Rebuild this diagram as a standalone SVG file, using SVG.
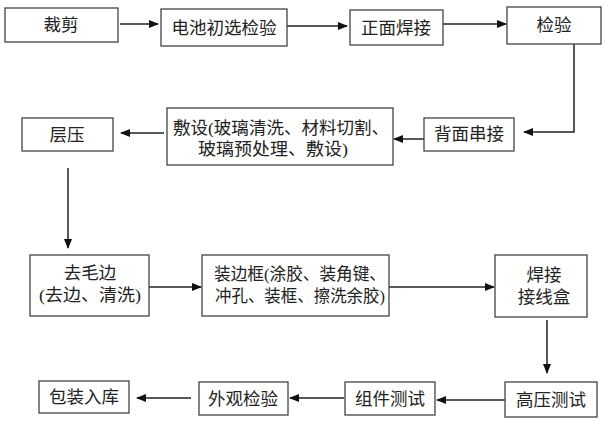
<svg xmlns="http://www.w3.org/2000/svg" width="605" height="421" viewBox="0 0 605 421">
<style>
.b{fill:#fff;stroke:#444;stroke-width:1.3}
.t{font-family:"Liberation Serif","Noto Sans CJK SC",serif;font-size:17.5px;fill:#222;text-anchor:middle;dominant-baseline:central}
.s{text-anchor:start}
.c{fill:none;stroke:#222;stroke-width:1.5;marker-end:url(#a)}
</style>
<defs>
<marker id="a" markerUnits="userSpaceOnUse" markerWidth="10" markerHeight="8" refX="9" refY="4" orient="auto">
<path d="M0,0 L10,4 L0,8 Z" fill="#111"/>
</marker>
</defs>
<rect width="605" height="421" fill="#fff"/>
<g id="connectors">
<path class="c" d="M120,24 H158"/>
<path class="c" d="M287,26 H347"/>
<path class="c" d="M443,24 H506"/>
<path class="c" d="M574,44 V132 H524"/>
<path class="c" d="M424,139 H394"/>
<path class="c" d="M164,133 H121"/>
<path class="c" d="M68,168 V248"/>
<path class="c" d="M149,287 H201"/>
<path class="c" d="M389,287 H494"/>
<path class="c" d="M547,320 V373"/>
<path class="c" d="M505,400 H437"/>
<path class="c" d="M344,398 H290"/>
<path class="c" d="M191,398 H137"/>
</g>
<g id="n1"><rect class="b" x="5" y="8" width="113" height="34"/><text class="t" x="61" y="25">裁剪</text></g>
<g id="n2"><rect class="b" x="161" y="9" width="126" height="37"/><text class="t" x="224" y="28">电池初选检验</text></g>
<g id="n3"><rect class="b" x="350" y="10" width="93" height="35"/><text class="t" x="396" y="28">正面焊接</text></g>
<g id="n4"><rect class="b" x="507" y="7" width="94" height="37"/><text class="t" x="554" y="25">检验</text></g>
<g id="n5"><rect class="b" x="424" y="118" width="90" height="33"/><text class="t" x="469" y="134">背面串接</text></g>
<g id="n6"><rect class="b" x="167" y="108" width="226" height="57"/><text class="t s" x="173" y="128" textLength="216" lengthAdjust="spacingAndGlyphs">敷设(玻璃清洗、材料切割、</text><text class="t s" x="198" y="149" textLength="150" lengthAdjust="spacingAndGlyphs">玻璃预处理、敷设)</text></g>
<g id="n7"><rect class="b" x="22" y="118" width="91" height="33"/><text class="t" x="67" y="135">层压</text></g>
<g id="n8"><rect class="b" x="30" y="255" width="119" height="61"/><text class="t" x="90" y="273">去毛边</text><text class="t s" x="39" y="295" textLength="102" lengthAdjust="spacingAndGlyphs">(去边、清洗)</text></g>
<g id="n9"><rect class="b" x="202" y="255" width="187" height="61"/><text class="t s" x="214" y="274" textLength="172" lengthAdjust="spacingAndGlyphs">装边框(涂胶、装角键、</text><text class="t s" x="215" y="296" textLength="170" lengthAdjust="spacingAndGlyphs">冲孔、装框、擦洗余胶)</text></g>
<g id="n10"><rect class="b" x="495" y="255" width="92" height="62"/><text class="t" x="544" y="275">焊接</text><text class="t" x="544" y="297">接线盒</text></g>
<g id="n11"><rect class="b" x="505" y="382" width="92" height="35"/><text class="t" x="551" y="400">高压测试</text></g>
<g id="n12"><rect class="b" x="345" y="382" width="90" height="33"/><text class="t" x="390" y="399">组件测试</text></g>
<g id="n13"><rect class="b" x="199" y="382" width="89" height="33"/><text class="t" x="243" y="399">外观检验</text></g>
<g id="n14"><rect class="b" x="39" y="381" width="90" height="32"/><text class="t" x="84" y="397">包装入库</text></g>
</svg>
